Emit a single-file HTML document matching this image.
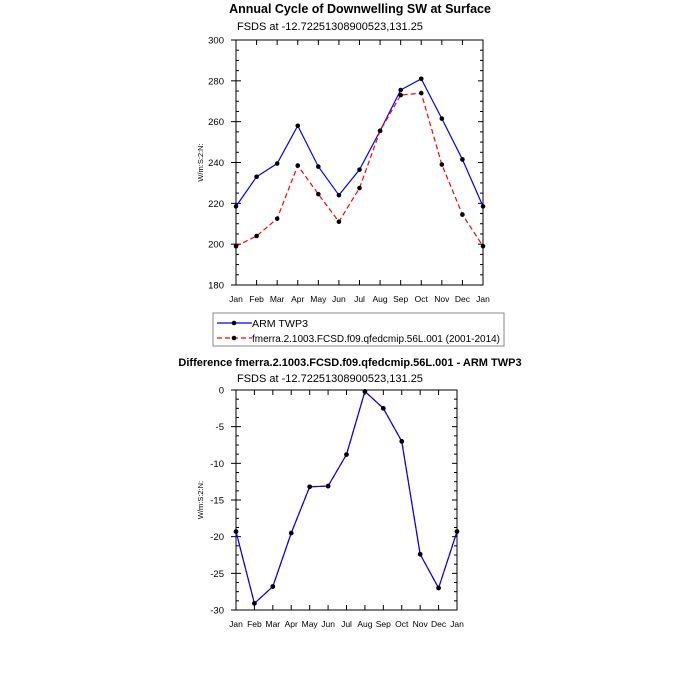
<!DOCTYPE html>
<html><head><style>body{margin:0;background:#fff}svg{display:block}text{font-family:"Liberation Sans",sans-serif}</style></head><body>
<svg width="700" height="700" viewBox="0 0 700 700" xmlns="http://www.w3.org/2000/svg">
<text x="360" y="13" font-size="12.5" font-weight="bold" text-anchor="middle">Annual Cycle of Downwelling SW at Surface</text>
<text x="237" y="30" font-size="11">FSDS at -12.72251308900523,131.25</text>
<g id="top"></g>
<rect x="213" y="313" width="291" height="33" fill="none" stroke="#888" stroke-width="1"/>
<line x1="217" y1="323" x2="252" y2="323" stroke="#0000ff" stroke-width="1.2"/><circle cx="234" cy="323" r="2.3"/>
<text x="252" y="327" font-size="10" textLength="56" lengthAdjust="spacingAndGlyphs">ARM TWP3</text>
<line x1="217" y1="338" x2="252" y2="338" stroke="#ff0000" stroke-width="1.2" stroke-dasharray="5,3"/><circle cx="234" cy="338" r="2.3"/>
<text x="252" y="342" font-size="10" textLength="248" lengthAdjust="spacingAndGlyphs">fmerra.2.1003.FCSD.f09.qfedcmip.56L.001 (2001-2014)</text>
<text x="350" y="366" font-size="11" font-weight="bold" text-anchor="middle">Difference fmerra.2.1003.FCSD.f09.qfedcmip.56L.001 - ARM TWP3</text>
<text x="237" y="382" font-size="11">FSDS at -12.72251308900523,131.25</text>
<g id="bot"></g>
</svg>
<script>
const ns="http://www.w3.org/2000/svg";
function el(p,t,a,txt){const e=document.createElementNS(ns,t);for(const k in a)e.setAttribute(k,a[k]);if(txt!==undefined)e.textContent=txt;p.appendChild(e);return e;}
const mon=["Jan","Feb","Mar","Apr","May","Jun","Jul","Aug","Sep","Oct","Nov","Dec","Jan"];
function plot(g,x0,x1,y0,y1,vmin,vmax,step,minor,series,ylab){
 const X=i=>x0+(x1-x0)*i/12, Y=v=>y1-(v-vmin)/(vmax-vmin)*(y1-y0);
 el(g,"rect",{x:x0,y:y0,width:x1-x0,height:y1-y0,fill:"none",stroke:"#000","stroke-width":1});
 for(let i=0;i<=12;i++){const x=X(i);
  el(g,"line",{x1:x,y1:y1,x2:x,y2:y1-5,stroke:"#000"});el(g,"line",{x1:x,y1:y0,x2:x,y2:y0+5,stroke:"#000"});
  el(g,"text",{x:x,y:y1+17,"font-size":8.5,"text-anchor":"middle"},mon[i]);}
 for(let v=vmin;v<=vmax+1e-6;v+=minor){const y=Y(v);const maj=Math.abs(((v-vmin)/step)-Math.round((v-vmin)/step))<1e-6;const L=maj?5:3;
  el(g,"line",{x1:x0,y1:y,x2:x0+L,y2:y,stroke:"#000"});el(g,"line",{x1:x1,y1:y,x2:x1-L,y2:y,stroke:"#000"});
  if(maj){el(g,"line",{x1:x0,y1:y,x2:x0-5,y2:y,stroke:"#000"});el(g,"text",{x:x0-12,y:y+3.5,"font-size":9.5,"text-anchor":"end"},String(v));}}
 el(g,"text",{x:0,y:0,"font-size":7.5,"text-anchor":"middle",transform:`translate(${x0-33},${(y0+y1)/2}) rotate(-90)`},ylab);
 for(const s of series){const pts=s.d.map((v,i)=>X(i)+","+Y(v)).join(" ");
  el(g,"polyline",{points:pts,fill:"none",stroke:s.c,"stroke-width":1.2,"stroke-dasharray":s.dash||"none"});
  s.d.forEach((v,i)=>el(g,"circle",{cx:X(i),cy:Y(v),r:2.3}));}
}
plot(document.getElementById("top"),236,483,40,285,180,300,20,5,[
 {c:"#0000ff",d:[218.5,233,239.5,258,238,224,236.5,255.5,275.5,281,261.5,241.5,218.5]},
 {c:"#ff0000",dash:"5,3",d:[199,204,212.5,238.5,224.5,211,227.5,255.5,273,274,239,214.5,199]}],"W/m:S:2:N:");
plot(document.getElementById("bot"),236,457,390,610,-30,0,5,1.25,[
 {c:"#ff0000",dash:"5,3",d:[-19.3,-29.1,-26.8,-19.5,-13.2,-13.1,-8.8,-0.2,-2.5,-7,-22.4,-27,-19.3]},
 {c:"#0000ff",d:[-19.3,-29.1,-26.8,-19.5,-13.2,-13.1,-8.8,-0.2,-2.5,-7,-22.4,-27,-19.3]}],"W/m:S:2:N:");
</script>
</body></html>
